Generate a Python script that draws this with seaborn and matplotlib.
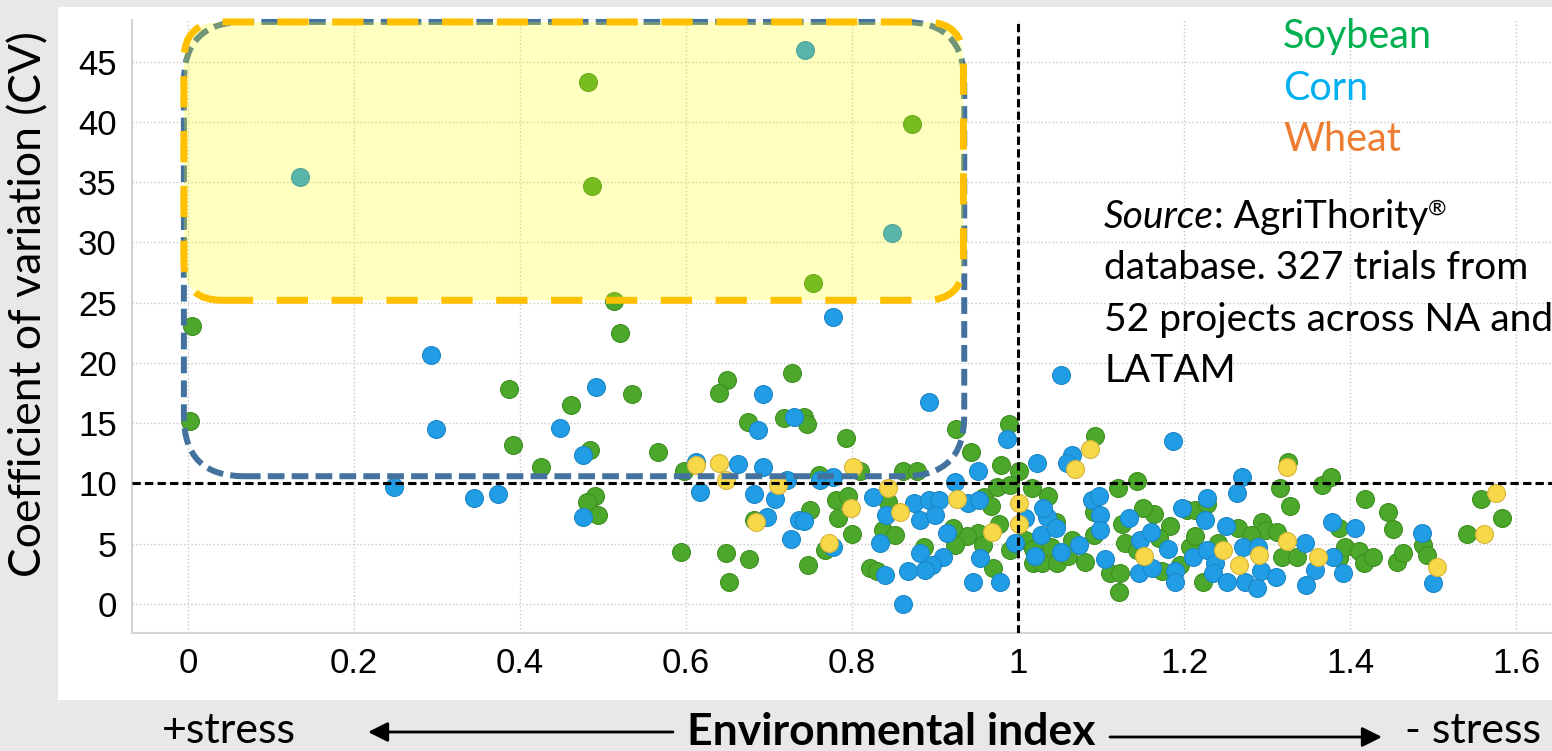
import pandas as pd
import matplotlib
matplotlib.use("Agg")
import matplotlib.pyplot as plt
import matplotlib.patches as mpatches
import matplotlib.transforms as mtransforms
import seaborn as sns

# Environmental index (x) and coefficient of variation (y)
soy_x = [0.005, 0.002, 0.387, 0.392, 0.482, 0.872, 0.487, 0.753, 0.513, 0.520,
         0.461, 0.535, 0.484, 0.425, 0.566, 0.490, 0.480, 0.494, 0.649, 0.640,
         0.727, 0.675, 0.718, 0.742, 0.745, 0.792, 0.925, 0.943, 0.989, 0.598,
         0.682, 0.594, 0.648, 0.676, 0.652, 0.810, 0.760, 0.861, 0.878, 0.979,
         1.001, 0.843, 0.780, 0.795, 0.783, 0.749, 0.959, 0.967, 0.974, 0.990,
         1.017, 0.977, 0.990, 1.008, 1.018, 1.018, 0.952, 0.938, 0.957, 0.922,
         0.924, 0.886, 0.970, 0.822, 0.830, 0.837, 0.852, 0.800, 0.767, 0.747,
         1.093, 1.120, 1.143, 1.036, 1.163, 1.091, 1.045, 1.091, 1.125, 1.065,
         1.081, 1.029, 1.047, 1.111, 1.123, 1.129, 1.143, 1.122, 1.173, 1.183,
         1.203, 1.213, 1.227, 1.207, 1.213, 1.223, 1.241, 1.265, 1.294, 1.299,
         1.281, 1.312, 1.318, 1.325, 1.315, 1.328, 1.366, 1.377, 1.418, 1.446,
         1.452, 1.386, 1.336, 1.386, 1.394, 1.410, 1.417, 1.427, 1.456, 1.463,
         1.488, 1.492, 1.557, 1.583, 1.541, 1.040, 1.060, 1.150, 1.170, 1.195]
soy_y = [23.1, 15.2, 17.8, 13.2, 43.3, 39.8, 34.7, 26.6, 25.1, 22.5,
         16.5, 17.4, 12.8, 11.4, 12.6, 9.0, 8.5, 7.4, 18.6, 17.5,
         19.2, 15.1, 15.4, 15.5, 14.9, 13.8, 14.5, 12.6, 14.9, 11.0,
         7.0, 4.3, 4.2, 3.7, 1.8, 11.0, 10.7, 11.0, 11.0, 11.5,
         11.0, 8.5, 8.6, 9.0, 7.1, 7.8, 8.9, 8.1, 9.7, 9.9,
         9.6, 6.6, 4.5, 5.3, 4.6, 3.4, 5.9, 5.6, 4.9, 6.3,
         4.9, 4.7, 3.0, 3.0, 2.7, 6.1, 5.7, 5.8, 4.5, 3.2,
         13.9, 9.6, 10.2, 9.0, 7.5, 7.6, 6.8, 5.7, 6.6, 5.3,
         3.5, 3.4, 3.4, 2.6, 2.6, 5.1, 4.5, 1.0, 2.7, 6.5,
         7.8, 7.8, 8.3, 4.7, 5.6, 1.8, 5.1, 6.3, 6.8, 6.1,
         5.7, 6.0, 3.9, 11.8, 9.6, 8.1, 9.9, 10.5, 8.7, 7.6,
         6.2, 6.3, 3.9, 3.8, 4.7, 4.4, 3.4, 3.9, 3.5, 4.2,
         4.9, 4.1, 8.7, 7.1, 5.8, 4.7, 4.0, 8.0, 5.5, 3.2]

corn_x = [0.135, 0.743, 0.848, 0.777, 0.293, 0.299, 0.248, 0.345, 0.373, 0.492,
          0.448, 0.476, 0.476, 0.692, 0.686, 0.730, 0.893, 0.987, 0.612, 0.663,
          0.693, 0.617, 0.682, 0.722, 0.707, 0.697, 0.726, 0.736, 0.761, 0.777,
          0.952, 1.023, 0.924, 0.825, 0.742, 0.841, 0.874, 0.882, 0.892, 0.905,
          0.900, 0.940, 0.953, 1.008, 0.996, 0.914, 0.882, 0.910, 0.896, 0.954,
          0.946, 0.978, 0.888, 0.867, 0.839, 0.861, 0.834, 0.777,
          1.052, 1.065, 1.059, 1.187, 1.089, 1.097, 1.099, 1.035, 1.027, 1.045,
          1.099, 1.134, 1.051, 1.073, 1.105, 1.147, 1.145, 1.161, 1.181, 1.197,
          1.189, 1.189, 1.225, 1.227, 1.211, 1.227, 1.237, 1.235, 1.251, 1.269,
          1.263, 1.271, 1.273, 1.289, 1.293, 1.288, 1.378, 1.406, 1.346, 1.379,
          1.358, 1.391, 1.347, 1.487, 1.500, 1.030, 1.020, 1.160, 1.250, 1.310]
corn_y = [35.4, 46.0, 30.8, 23.8, 20.7, 14.5, 9.7, 8.8, 9.1, 18.0,
          14.6, 12.4, 7.2, 17.4, 14.4, 15.5, 16.8, 13.7, 11.8, 11.6,
          11.4, 9.3, 9.1, 10.3, 8.7, 7.2, 5.4, 7.0, 10.3, 10.5,
          11.0, 11.7, 10.1, 8.9, 6.9, 7.4, 8.4, 7.0, 8.6, 8.6,
          7.4, 8.4, 8.6, 7.1, 5.1, 5.9, 4.2, 3.9, 3.2, 3.8,
          1.8, 1.8, 2.8, 2.7, 2.4, 0.0, 5.1, 4.7,
          19.0, 12.4, 11.7, 13.5, 8.6, 9.0, 7.4, 7.2, 5.7, 6.3,
          6.1, 7.1, 4.3, 4.9, 3.7, 5.3, 2.6, 3.0, 4.6, 8.0,
          2.7, 1.8, 7.0, 8.8, 3.9, 4.5, 3.4, 2.6, 1.8, 10.5,
          9.2, 4.7, 1.8, 4.7, 2.7, 1.3, 6.8, 6.3, 5.1, 3.9,
          2.8, 2.6, 1.6, 5.9, 1.7, 8.0, 4.0, 6.0, 6.5, 2.2]

wheat_x = [0.612, 0.640, 0.648, 0.711, 0.684, 0.801, 0.843, 0.798, 0.858, 0.926,
           1.001, 1.001, 0.968, 0.772, 1.086, 1.069, 1.152, 1.247, 1.266, 1.290,
           1.324, 1.324, 1.361, 1.504, 1.575, 1.561]
wheat_y = [11.5, 11.7, 10.3, 9.9, 6.8, 11.4, 9.6, 8.0, 7.6, 8.7,
           8.4, 6.6, 6.0, 5.1, 12.9, 11.2, 4.0, 4.5, 3.2, 4.1,
           5.2, 11.4, 3.9, 3.1, 9.2, 5.8]

crops = ["Soybean", "Corn", "Wheat"]
crop_fill = ["#4ca82a", "#219de6", "#f6d848"]
crop_edge = ["#3e8e22", "#1b86c6", "#d6b53a"]
label_colors = ["#00b050", "#00b0f0", "#ed7d31"]

x_ticks = [0, 0.2, 0.4, 0.6, 0.8, 1.0, 1.2, 1.4, 1.6]
x_tick_labels = ["0", "0.2", "0.4", "0.6", "0.8", "1", "1.2", "1.4", "1.6"]
y_ticks = [0, 5, 10, 15, 20, 25, 30, 35, 40, 45]
cv_threshold = 10
index_mean = 1.0

df = pd.concat([
    pd.DataFrame({"env": soy_x, "cv": soy_y, "crop": "Soybean"}),
    pd.DataFrame({"env": corn_x, "cv": corn_y, "crop": "Corn"}),
    pd.DataFrame({"env": wheat_x, "cv": wheat_y, "crop": "Wheat"}),
])

sns.set_style("white")
plt.rcParams['font.family'] = ['Lato', 'DejaVu Sans']
plt.rcParams['text.color'] = 'black'

W, H = 1552, 751
fig = plt.figure(figsize=(W / 100, H / 100), dpi=100, facecolor="#e8e8ea")


def fx(px):
    return px / W


def fy(py):
    return 1 - py / H


# white slide panel behind the chart
fig.add_artist(mpatches.Rectangle((fx(58), fy(700)), 1 - fx(58), fy(7) - fy(700),
                                  facecolor="white", edgecolor="none", zorder=-1))

ax = fig.add_axes([fx(132), fy(633), 1 - fx(132), fy(20) - fy(633)])

for crop, fill, edge in zip(crops, crop_fill, crop_edge):
    sns.scatterplot(data=df[df.crop == crop], x="env", y="cv", color=fill,
                    edgecolor=edge, linewidth=0.8, s=166, ax=ax, zorder=2, legend=False)

ax.set_xlim(-0.0675, 1.643)
ax.set_ylim(-2.41, 48.46)
ax.set_xticks(x_ticks)
ax.set_xticklabels(x_tick_labels)
ax.set_yticks(y_ticks)
ax.set_xlabel("")
ax.set_ylabel("")
ax.grid(True, linestyle=":", color="#c8c8c8", linewidth=1.0)
ax.set_axisbelow(True)
for side in ["top", "right"]:
    ax.spines[side].set_visible(False)
for side in ["left", "bottom"]:
    ax.spines[side].set_color("#d4d4d4")
    ax.spines[side].set_linewidth(1.5)
ax.tick_params(length=5, width=1.2, color="#d4d4d4", labelsize=25,
               labelfontfamily="Liberation Sans", labelcolor="black")
ax.tick_params(axis="x", pad=5)
ax.tick_params(axis="y", pad=6)

# reference lines
ax.axhline(cv_threshold, color="black", lw=2.2, ls=(0, (2.7, 1.4)), zorder=3.5)
ax.axvline(index_mean, color="black", lw=2.2, ls=(0, (2.7, 1.4)), zorder=3.5)


# highlight boxes (data coords -> pixels so the corners stay round)
def rounded_box(x0, y0, x1, y1, radius, **kw):
    (px0, py0), (px1, py1) = ax.transData.transform([(x0, y0), (x1, y1)])
    box = mpatches.FancyBboxPatch((px0, py0), px1 - px0, py1 - py0,
                                  boxstyle=f"round,pad=0,rounding_size={radius}",
                                  transform=mtransforms.IdentityTransform(),
                                  clip_on=False, **kw)
    ax.add_patch(box)


rounded_box(-0.005, 10.6, 0.935, 48.3, 60, facecolor="none", edgecolor="#44729f",
            lw=4.3, ls=(0, (2.8, 1.2)), zorder=3)
rounded_box(-0.005, 25.2, 0.934, 48.3, 38, facecolor=(1, 1, 0, 0.25),
            edgecolor="none", zorder=4)
rounded_box(-0.005, 25.2, 0.934, 48.3, 38, facecolor="none", edgecolor="#ffc000",
            lw=5, ls=(0, (4.5, 3.4)), zorder=5)


def px_text(x, y, s, **kw):
    return fig.text(fx(x), fy(y), s, va="baseline", **kw)


# crop labels
for i, (crop, c) in enumerate(zip(crops, label_colors)):
    px_text(1283, 48 + 51.5 * i, crop, color=c, fontsize=28.5)

# source note
t1 = px_text(1104, 228, "Source", style="italic", fontsize=28)
t2 = ax.annotate(": AgriThority", xy=(1, 0), xycoords=t1, va="bottom", ha="left", fontsize=28)
ax.annotate("®", xy=(1, 1), xycoords=t2, va="top", ha="left", fontsize=16)
for i, line in enumerate(["database. 327 trials from", "52 projects across NA and", "LATAM"]):
    px_text(1104, 279 + 51.5 * i, line, fontsize=28)

fig.text(fx(29), fy(304), "Coefficient of variation (CV)", rotation=90,
         ha="center", va="center", fontsize=32)

px_text(162, 743, "+stress", fontsize=31)
px_text(687, 745, "Environmental index", fontsize=32, fontweight="bold")
px_text(1405, 743, "- stress", fontsize=31)

for (x0, y0), (x1, y1) in [((673, 732), (368, 732)), ((1110, 737), (1382, 737))]:
    fig.add_artist(mpatches.FancyArrowPatch((x0, H - y0), (x1, H - y1),
                                            transform=mtransforms.IdentityTransform(),
                                            arrowstyle="-|>,head_length=0.6,head_width=0.3",
                                            mutation_scale=20, color="black", lw=2,
                                            shrinkA=0, shrinkB=0))

fig.savefig("out.png", dpi=100, facecolor=fig.get_facecolor())
